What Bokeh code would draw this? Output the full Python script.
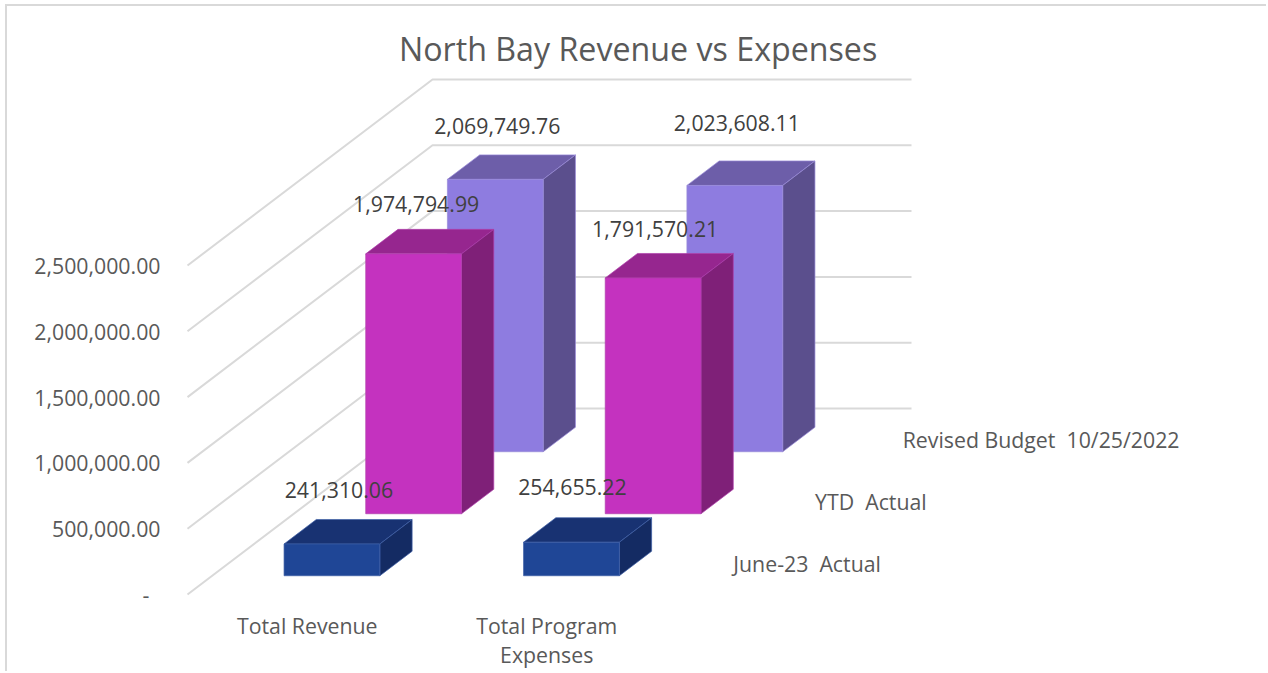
from bokeh.plotting import figure
from bokeh.models import Range1d, FixedTicker, ColumnDataSource, LinearAxis
from bokeh.core.properties import value
from bokeh.embed import file_html
from bokeh.resources import INLINE

# ---- chart data ----
title = "North Bay Revenue vs Expenses"
categories = ["Total Revenue", "Total Program\nExpenses"]
series_names = ["June-23\u00a0\u00a0Actual", "YTD\u00a0\u00a0Actual", "Revised Budget\u00a0\u00a010/25/2022"]
june_actual = [241310.06, 254655.22]
ytd_actual = [1974794.99, 1791570.21]
revised_budget = [2069749.76, 2023608.11]
value_ticks = [0, 500000, 1000000, 1500000, 2000000, 2500000]
tick_labels = ["-\u00a0\u00a0", "500,000.00", "1,000,000.00", "1,500,000.00", "2,000,000.00", "2,500,000.00"]

# ---- styles: (front, top, side, edge) per series ----
colors = [("#1F4696", "#183272", "#142B63", "#3E5FA6"),
          ("#C432BF", "#96268F", "#7F2078", "#B040AC"),
          ("#8E7CE0", "#6D5EA9", "#5B4F8D", "#9A8BD8")]
FONT = "Open Sans"
GRID = "#D9D9D9"
LABEL_SIZE = "21.3px"

# ---- layout: oblique projection of the Excel 3-D chart ----
PX_X = 239.5            # px per category
PX_V = 65.8 / 500000    # px per unit of value
DEPTH_PX_X = 81.67      # px right per series row
DEPTH_PX_Y = 62.0       # px up per series row
DX = DEPTH_PX_X / PX_X
DV = DEPTH_PX_Y / PX_V
BAR_W = 0.40
BAR_D = 0.395
ORG_X, ORG_Y = 187, 594                 # page pixel of the chart origin
FRAME_L, FRAME_R, FRAME_T, FRAME_B = 175, 1268, 72, 605
PAGE_L, PAGE_T = 7, 6
PAGE_W, PAGE_H = 1261, 667


def proj(x, d, v):
    return x + d * DX, v + d * DV


p = figure(
    width=PAGE_W, height=PAGE_H,
    min_border_left=FRAME_L - PAGE_L, min_border_right=PAGE_L + PAGE_W - FRAME_R,
    min_border_top=FRAME_T - PAGE_T, min_border_bottom=PAGE_T + PAGE_H - FRAME_B,
    x_range=Range1d((FRAME_L - ORG_X) / PX_X, (FRAME_R - ORG_X) / PX_X),
    y_range=Range1d((ORG_Y - FRAME_B) / PX_V, (ORG_Y - FRAME_T) / PX_V),
    output_backend="svg", toolbar_location=None,
    outline_line_color=None, background_fill_color="white",
    margin=(PAGE_T, 0, 0, PAGE_L),
    styles={"box-shadow": "-2px -2px 0 0 #D9D9D9"},
)
p.title.text = title
p.title.text_font = FONT
p.title.text_font_size = "32.2px"
p.title.text_font_style = "normal"
p.title.text_color = "#595959"
p.title.align = "left"
p.title.offset = 223.5
p.title.standoff = 6

p.grid.visible = False

ya = p.yaxis[0]
ya.ticker = FixedTicker(ticks=value_ticks)
ya.major_label_overrides = dict(zip(value_ticks, tick_labels))
ya.axis_line_color = None
ya.major_tick_line_color = None
ya.minor_tick_line_color = None
ya.major_label_standoff = 9
ya.major_label_text_font = FONT
ya.major_label_text_font_size = LABEL_SIZE
ya.major_label_text_color = "#595959"


def style_cat_axis(ax, labels, standoff):
    ticks = list(labels)
    ax.ticker = FixedTicker(ticks=ticks)
    ax.major_label_overrides = labels
    ax.axis_line_color = None
    ax.major_tick_line_color = None
    ax.minor_tick_line_color = None
    ax.major_label_standoff = standoff
    ax.major_label_text_font = FONT
    ax.major_label_text_font_size = LABEL_SIZE
    ax.major_label_text_color = "#595959"


cat_lines = [c.split("\n") for c in categories]
style_cat_axis(p.xaxis[0], {i + 0.5: c[0] for i, c in enumerate(cat_lines)}, -1)
second = LinearAxis()
style_cat_axis(second, {i + 0.5: c[1] for i, c in enumerate(cat_lines) if len(c) > 1}, -9)
p.add_layout(second, "below")

# walls: grid lines along the left wall and the back wall
n_cat, n_ser = len(categories), len(series_names)
gx, gy = [], []
for v in value_ticks:
    a = proj(0, 0, v)
    b = proj(0, n_ser, v)
    c = proj(n_cat, n_ser, v)
    gx.append([a[0], b[0], c[0]])
    gy.append([a[1], b[1], c[1]])
p.multi_line(gx, gy, line_color=GRID, line_width=2)

# bars, back row first
series_values = [june_actual, ytd_actual, revised_budget]
fx, fy, fc, fl = [], [], [], []
for s in reversed(range(n_ser)):
    for i in range(n_cat):
        v = series_values[s][i]
        x0, x1 = i + 0.5 - BAR_W / 2, i + 0.5 + BAR_W / 2
        d0, d1 = s + 0.5 - BAR_D / 2, s + 0.5 + BAR_D / 2
        faces = [
            ([(x0, d0, v), (x1, d0, v), (x1, d1, v), (x0, d1, v)], colors[s][1]),
            ([(x1, d0, 0), (x1, d1, 0), (x1, d1, v), (x1, d0, v)], colors[s][2]),
            ([(x0, d0, 0), (x1, d0, 0), (x1, d0, v), (x0, d0, v)], colors[s][0]),
        ]
        for pts, col in faces:
            q = [proj(*t) for t in pts]
            fx.append([a for a, _ in q])
            fy.append([b for _, b in q])
            fc.append(col)
            fl.append(colors[s][3])
p.patches(xs="xs", ys="ys", fill_color="fc", line_color="lc", line_width=0.7,
          source=ColumnDataSource(dict(xs=fx, ys=fy, fc=fc, lc=fl)))

# value labels: one nudge (px) per label, placed over the bar's front face
nudge_x = [[7, 1], [2.5, 2], [2, 2]]
nudge_y = [[54, 55], [50, 49], [53, 62]]
lx, ly, lt, ox, oy = [], [], [], [], []
for s in range(n_ser):
    for i in range(n_cat):
        v = series_values[s][i]
        X, Y = proj(i + 0.5, s + 0.5 - BAR_D / 2, v)
        lx.append(X)
        ly.append(Y)
        lt.append(f"{v:,.2f}")
        ox.append(nudge_x[s][i])
        oy.append(-nudge_y[s][i])
p.text(x="x", y="y", text="t", x_offset="ox", y_offset="oy",
       source=ColumnDataSource(dict(x=lx, y=ly, t=lt, ox=ox, oy=oy)),
       text_font=value(FONT), text_font_size=LABEL_SIZE, text_color="#404040",
       text_align="center", text_baseline="middle")

# series names along the depth axis
sx, sy = zip(*[proj(n_cat, s + 0.5, 0) for s in range(n_ser)])
p.text(x=list(sx), y=list(sy), text=series_names, x_offset=[26, 26, 32],
       text_font=value(FONT), text_font_size=LABEL_SIZE, text_color="#595959",
       text_align="left", text_baseline="middle")

open("out.html", "w").write(file_html(p, INLINE))
